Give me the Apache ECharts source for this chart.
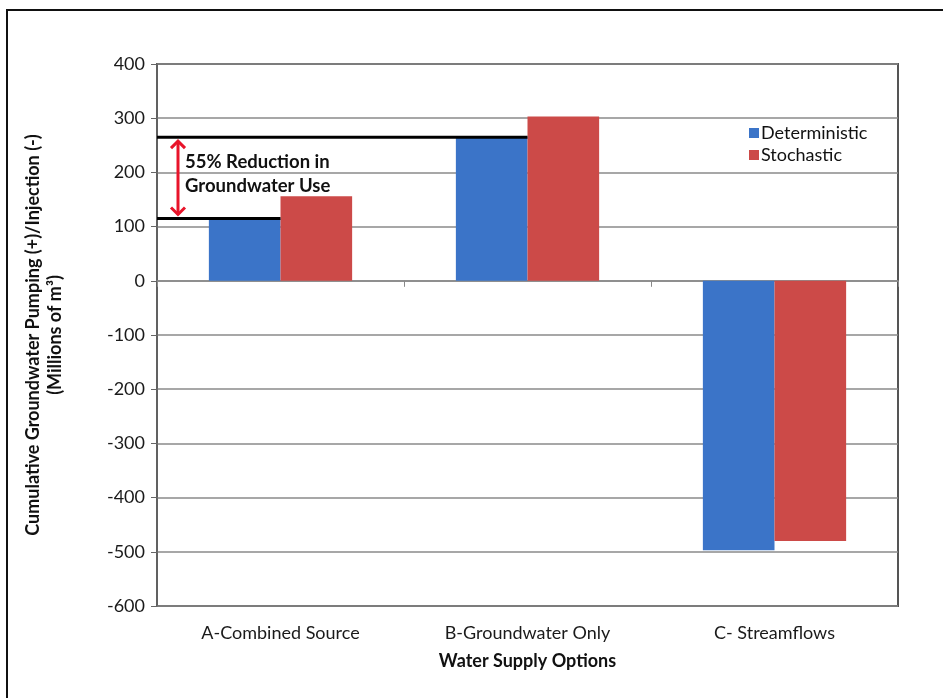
<!DOCTYPE html>
<html>
<head>
<meta charset="utf-8">
<script src="https://cdn.jsdelivr.net/npm/echarts@6/dist/echarts.min.js"></script>
<style>
html,body{margin:0;padding:0;background:#fff;}
#c{width:943px;height:698px;}
</style>
</head>
<body>
<div id="c"></div>
<script>
var categories = ['A-Combined Source', 'B-Groundwater Only', 'C- Streamflows'];
var deterministic = [115, 265, -497];
var stochastic = [156, 303, -480];
var yTicks = {min: -600, max: 400, interval: 100};
var annotationText = '55% Reduction in\nGroundwater Use';
var seriesNames = ['Deterministic', 'Stochastic'];

var FONT = 'Lato, "Open Sans", sans-serif';
var GRID = {left: 157, right: 45, top: 64, bottom: 92};

var chart = echarts.init(document.getElementById('c'), null, {renderer: 'canvas'});

var option = {
  backgroundColor: '#fff',
  animation: false,
  textStyle: {fontFamily: FONT},
  grid: {left: GRID.left, right: GRID.right, top: GRID.top, bottom: GRID.bottom,
         show: true, borderColor: '#555', borderWidth: 2, backgroundColor: 'transparent'},
  legend: {
    orient: 'vertical', left: 744, top: 119,
    itemWidth: 10, itemHeight: 10, itemGap: 4,
    icon: 'rect',
    textStyle: {fontFamily: FONT, fontSize: 18, color: '#111', padding: [0,0,0,-3]},
    data: seriesNames
  },
  xAxis: [{
    type: 'category', data: categories, position: 'bottom',
    axisLine: {show: false, onZero: false},
    axisTick: {show: false},
    axisLabel: {fontFamily: FONT, fontSize: 18, color: '#1a1a1a', margin: 18},
    name: 'Water Supply Options', nameLocation: 'middle', nameGap: 46,
    nameTextStyle: {fontFamily: FONT, fontSize: 18, fontWeight: 'bold', color: '#111'}
  }, {
    type: 'category', data: categories, position: 'top',
    axisLine: {show: true, onZero: true, lineStyle: {color: '#888', width: 1.5}},
    axisTick: {show: true, inside: true, length: 6, lineStyle: {color: '#888'}},
    axisLabel: {show: false}
  }],
  yAxis: {
    type: 'value', min: yTicks.min, max: yTicks.max, interval: yTicks.interval,
    axisLine: {show: true, lineStyle: {color: '#666', width: 1.5}},
    axisTick: {show: true, length: 6, lineStyle: {color: '#666'}},
    axisLabel: {fontFamily: FONT, fontSize: 18, color: '#1a1a1a', margin: 12},
    splitLine: {show: true, lineStyle: {color: '#8a8a8a', width: 1.5}},
    name: 'Cumulative Groundwater Pumping (+)/Injection (-)\n(Millions of m³)',
    nameLocation: 'middle', nameGap: 91, nameRotate: 90,
    nameTextStyle: {fontFamily: FONT, fontSize: 18, fontWeight: 'bold', color: '#111', lineHeight: 22}
  },
  series: [{
    name: seriesNames[0], type: 'bar', data: deterministic, xAxisIndex: 0,
    barGap: '0%', barCategoryGap: '42%',
    itemStyle: {color: '#3B74C8'}
  }, {
    name: seriesNames[1], type: 'bar', data: stochastic, xAxisIndex: 0,
    barGap: '0%', barCategoryGap: '42%',
    itemStyle: {color: '#CC4A48'}
  }]
};
chart.setOption(option);

// Annotation built from data values through the chart's scales
function px(ci, v) { return chart.convertToPixel({xAxisIndex: 0, yAxisIndex: 0}, [ci, v]); }
var upperP = px(1, deterministic[1]);   // line to B deterministic bar edge (category center)
var lowerP = px(0, deterministic[0]);   // line to A deterministic bar edge
var x0 = GRID.left;
var ax = x0 + 21;
var ah = 7;
var graphics = [
  {type: 'rect', shape: {x: 7, y: 10, width: 960, height: 720}, style: {fill: 'none', stroke: '#111', lineWidth: 2}, z: 100},
  {type: 'line', shape: {x1: x0, y1: upperP[1], x2: upperP[0], y2: upperP[1]}, style: {stroke: '#000', lineWidth: 3}, z: 50},
  {type: 'line', shape: {x1: x0, y1: lowerP[1], x2: lowerP[0], y2: lowerP[1]}, style: {stroke: '#000', lineWidth: 3}, z: 50},
  {type: 'line', shape: {x1: ax, y1: upperP[1] + 4, x2: ax, y2: lowerP[1] - 4}, style: {stroke: '#E8142A', lineWidth: 3}, z: 50},
  {type: 'polyline', shape: {points: [[ax - ah, upperP[1] + 4 + ah], [ax, upperP[1] + 4], [ax + ah, upperP[1] + 4 + ah]]}, style: {stroke: '#E8142A', lineWidth: 3, fill: 'none'}, z: 50},
  {type: 'polyline', shape: {points: [[ax - ah, lowerP[1] - 4 - ah], [ax, lowerP[1] - 4], [ax + ah, lowerP[1] - 4 - ah]]}, style: {stroke: '#E8142A', lineWidth: 3, fill: 'none'}, z: 50},
  {type: 'text', x: x0 + 28, y: (upperP[1] + lowerP[1]) / 2 - 4, style: {text: annotationText, fontFamily: FONT, fontSize: 18.5, fontWeight: 'bold', fill: '#111', verticalAlign: 'middle', lineHeight: 24}, z: 50}
];
chart.setOption({graphic: graphics});
</script>
</body>
</html>
